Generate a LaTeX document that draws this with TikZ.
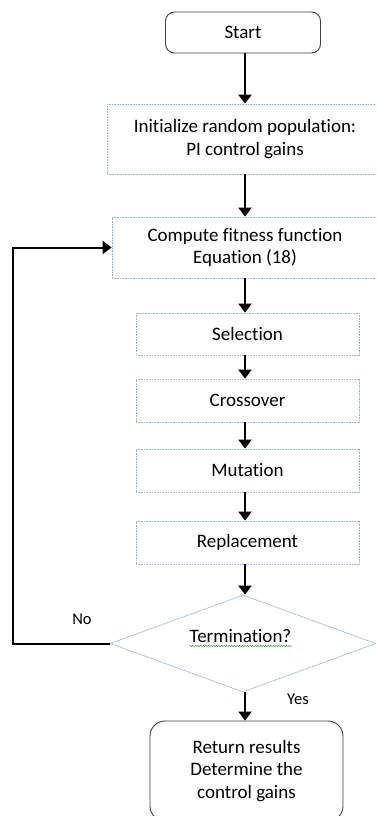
\documentclass[tikz,border=0pt]{standalone}
\usepackage{fontspec}
\setmainfont{Carlito}[Ligatures={NoCommon,NoContextual}]
\usetikzlibrary{arrows.meta,shapes.geometric,decorations.pathmorphing,calc}
\definecolor{boxedge}{HTML}{9DB1CC}
\definecolor{spellgreen}{HTML}{3DA64A}
\tikzset{
  txt/.style={font=\fontsize{19}{22.5}\selectfont, align=center, text=black},
  procbox/.style={txt, draw=boxedge, dash pattern=on 1pt off 0.6pt, line width=0.8pt, inner sep=0pt},
  termbox/.style={txt, draw=black!75, line width=0.9pt, inner sep=0pt},
  decision/.style={diamond, draw=boxedge, dash pattern=on 1pt off 0.6pt, line width=0.8pt, inner sep=0pt, shape aspect=2.74},
  flow/.style={line width=2pt, -{Triangle[width=13pt,length=9pt]}},
  lbl/.style={font=\fontsize{16.5}{20}\selectfont, inner sep=0pt},
}
\begin{document}
\begin{tikzpicture}[x=1pt,y=-1pt]
\useasboundingbox (0,0) rectangle (376,816);
\clip (0,0) rectangle (376,816);
\fill[white] (0,0) rectangle (376,816);

% terminal and process boxes
\node[termbox, rounded corners=9pt, minimum width=155pt, minimum height=41pt] (start) at (243,32.5) {Start};
\node[procbox, minimum width=276pt, minimum height=70pt] (init) at (245,139) {Initialize random population:\\PI control gains};
\node[procbox, minimum width=266pt, minimum height=61pt] (fit) at (245,247.5) {Compute fitness function\\Equation (18)};
\node[procbox, minimum width=223pt, minimum height=42pt] (sel) at (247.5,334) {Selection};
\node[procbox, minimum width=223pt, minimum height=43pt] (cross) at (247.5,400.5) {Crossover};
\node[procbox, minimum width=223pt, minimum height=43pt] (mut) at (247.5,470.5) {Mutation};
\node[procbox, minimum width=223pt, minimum height=43pt] (repl) at (247.5,542.5) {Replacement};

% decision
\node[decision, minimum width=266pt, minimum height=97pt] (term) at (243,643.5) {};
\node[txt, inner sep=0pt] (termtext) at (240.5,636) {Termination?};
\draw[spellgreen, line width=0.5pt, decorate, decoration={snake, amplitude=0.7pt, segment length=2.6pt}]
  ($(termtext.base west)+(0,3.5)$) -- ($(termtext.base east)+(0,3.5)$);

\node[termbox, rounded corners=15pt, minimum width=193pt, minimum height=100pt] (ret) at (246.5,771) {Return results\\Determine the\\control gains};

% branch labels
\node[lbl] (no) at (82,619) {No};
\node[lbl] (yes) at (298,699) {Yes};

% connectors
\coordinate (loop) at (13,0);
\draw[flow] (start.south -| fit) -- (init.north -| fit);
\draw[flow] (init.south -| fit) -- (fit.north);
\draw[flow] (fit.south) -- (sel.north -| fit);
\draw[flow] (sel.south -| fit) -- (cross.north -| fit);
\draw[flow] (cross.south -| fit) -- (mut.north -| fit);
\draw[flow] (mut.south -| fit) -- (repl.north -| fit);
\draw[flow] (repl.south -| fit) -- (term.north -| fit);
\draw[flow] (term.south -| fit) -- (ret.north -| fit);
\draw[flow] (term.west) -- (term.west -| loop) -- (fit.west -| loop) -- (fit.west);
\end{tikzpicture}
\end{document}
